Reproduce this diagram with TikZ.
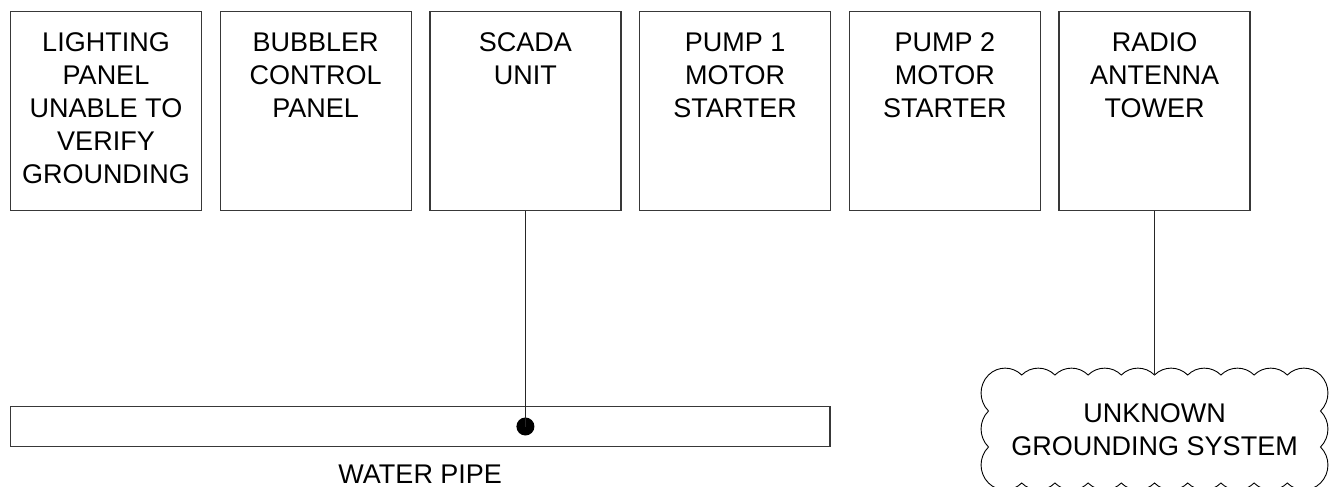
\documentclass[tikz,border=0pt]{standalone}
\usepackage{fontspec}
\setmainfont{Liberation Sans}
\begin{document}
\begin{tikzpicture}[x=1pt,y=-1pt,
  box/.style={draw=black!78,line width=1.4pt,rectangle,inner sep=0pt,minimum width=191pt,minimum height=199pt},
  lbl/.style={inner sep=0pt,anchor=north,align=center,font=\fontsize{27}{33}\selectfont},
  wire/.style={draw=black!85,line width=1.4pt},
  cloudline/.style={draw=black,line width=0.9pt}]
\useasboundingbox (0,0) rectangle (1338,487);
% boxes
\node[box] (b1) at (106,111) {};
\node[box] (b2) at (315.7,111) {};
\node[box] (b3) at (525.4,111) {};
\node[box] (b4) at (735.1,111) {};
\node[box] (b5) at (944.8,111) {};
\node[box] (b6) at (1154.5,111) {};
\node[lbl] (t1) at ([yshift=-21.5pt]b1.north) {LIGHTING\\PANEL\\UNABLE TO\\VERIFY\\GROUNDING};
\node[lbl] (t2) at ([yshift=-21.5pt]b2.north) {BUBBLER\\CONTROL\\PANEL};
\node[lbl] (t3) at ([yshift=-21.5pt]b3.north) {SCADA\\UNIT};
\node[lbl] (t4) at ([yshift=-21.5pt]b4.north) {PUMP 1\\MOTOR\\STARTER};
\node[lbl] (t5) at ([yshift=-21.5pt]b5.north) {PUMP 2\\MOTOR\\STARTER};
\node[lbl] (t6) at ([yshift=-21.5pt]b6.north) {RADIO\\ANTENNA\\TOWER};
% water pipe
\node[box,minimum width=819.5pt,minimum height=40pt] (pipe) at (420.25,426.5) {};
\node[circle,fill=black,inner sep=0pt,minimum size=18pt] (dot) at (b3.south |- pipe.center) {};
\draw[wire] (b3.south) -- (dot.center);
\node[lbl] (pipelbl) at (420.25,465) {WATER PIPE};
% cloud
\draw[cloudline] (988.5,375)
  foreach \i in {1,...,10} { to[bend left=45] ++(33.2,0) }
  foreach \i in {1,2,3} { to[bend left=45] ++(0,36) }
  foreach \i in {1,...,10} { to[bend left=45] ++(-33.2,0) }
  foreach \i in {1,2,3} { to[bend left=45] ++(0,-36) };
\coordinate (cloudtop) at (1154.5,375);
\node[lbl] (cloudtxt) at (1154.5,403) {UNKNOWN\\GROUNDING SYSTEM};
\draw[wire,line width=1pt] (b6.south) -- (cloudtop);
\end{tikzpicture}
\end{document}
